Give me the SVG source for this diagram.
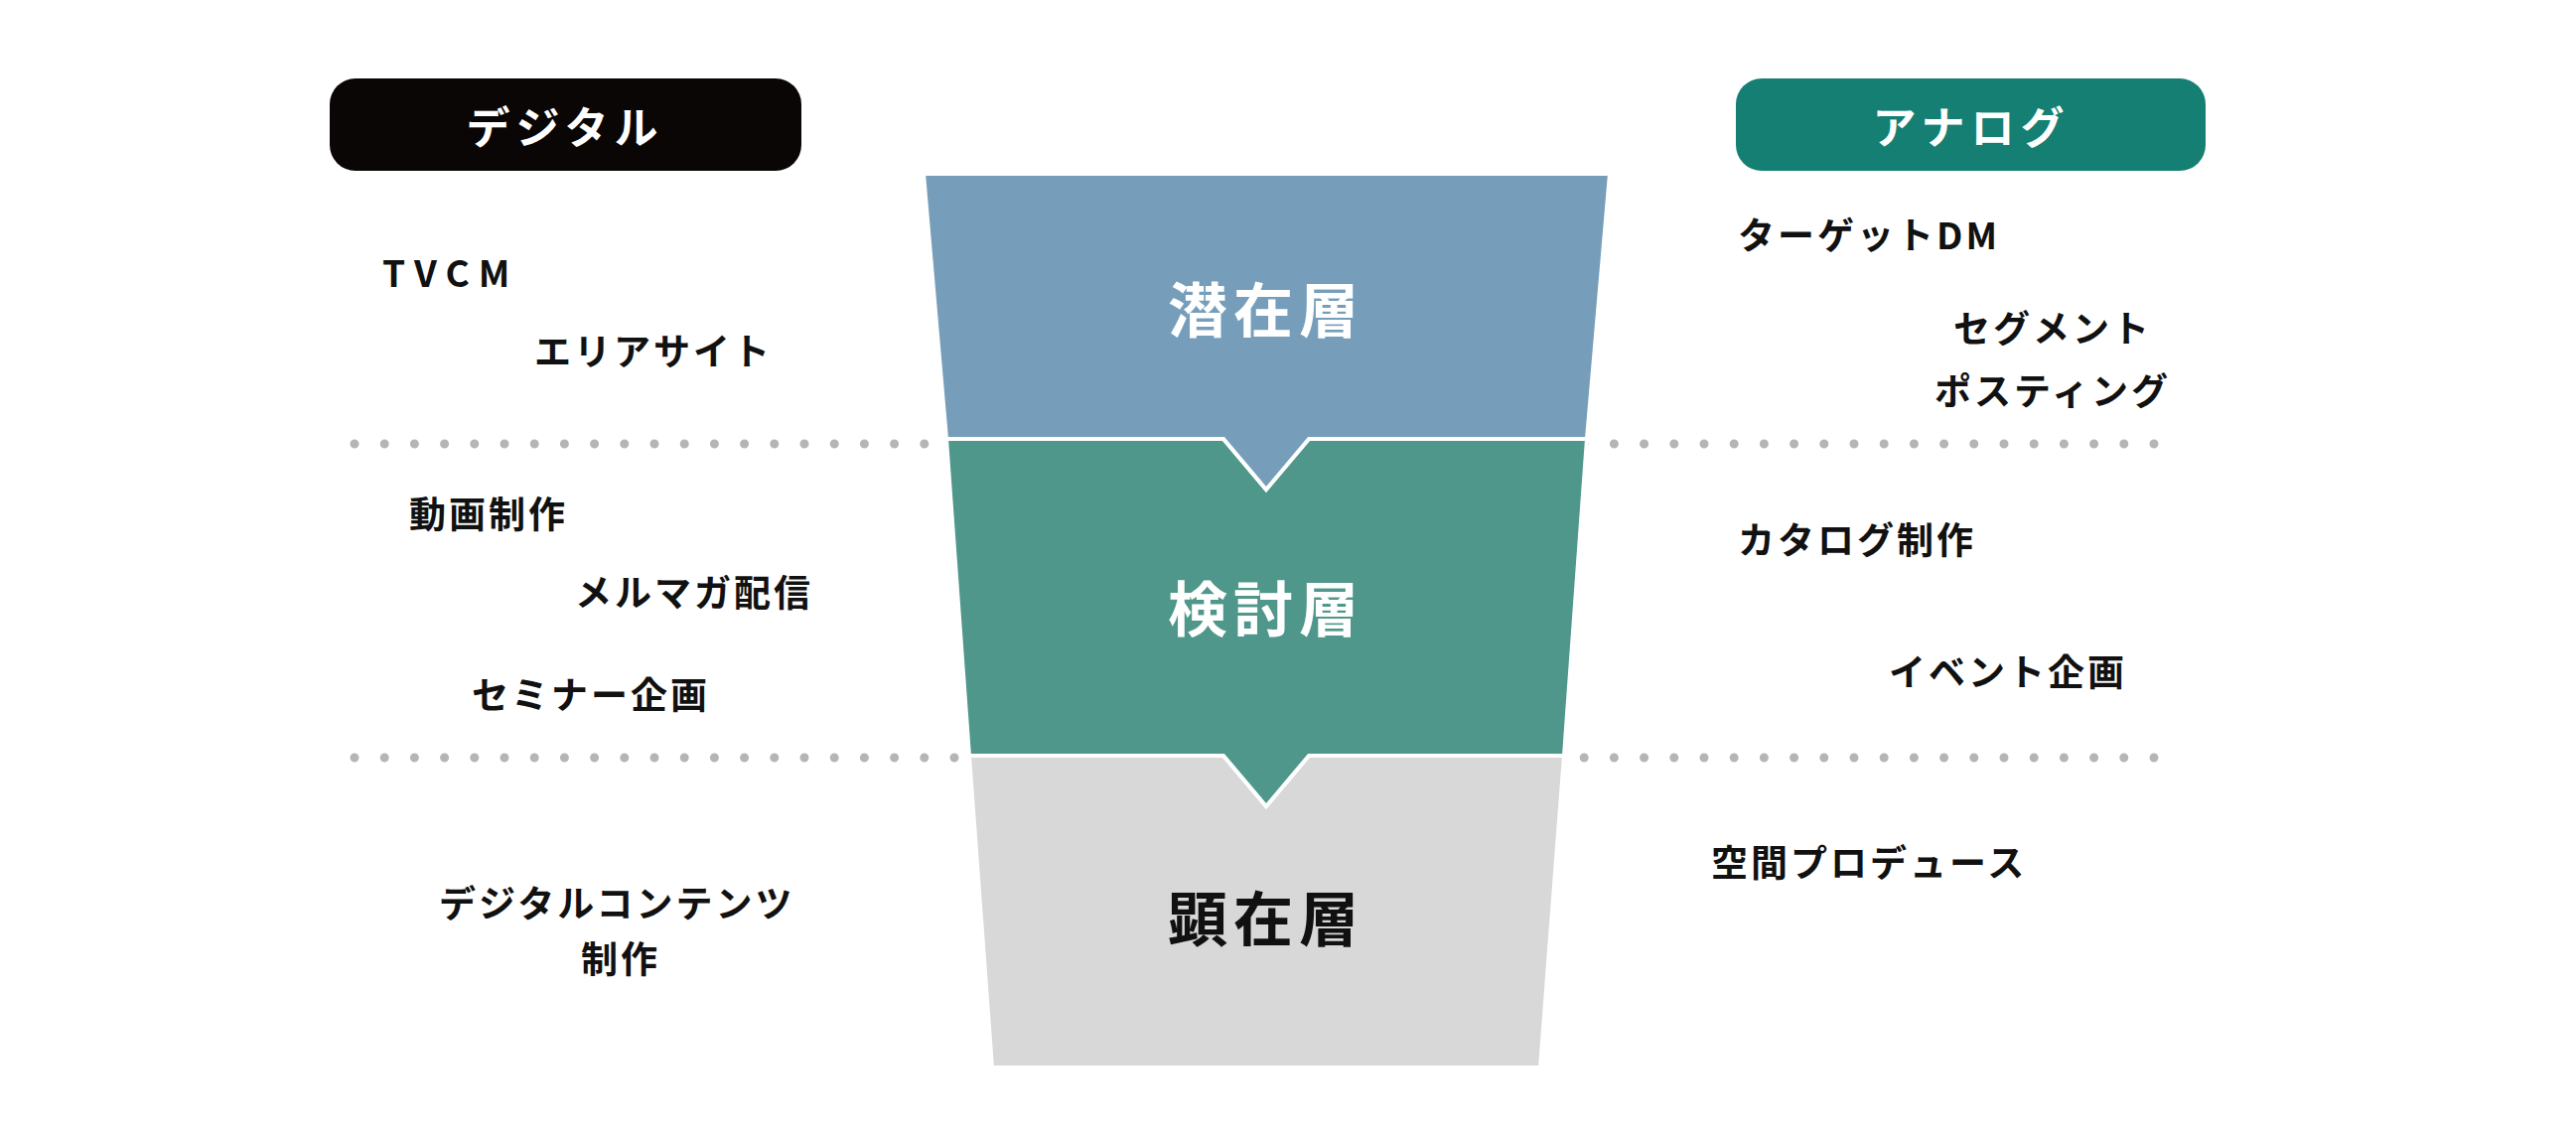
<svg xmlns="http://www.w3.org/2000/svg" width="2594" height="1141" viewBox="0 0 2594 1141">
<style>
text{font-family:"Noto Sans CJK JP","Noto Sans",sans-serif;font-weight:700;dominant-baseline:central}
.it{font-size:37px;fill:#111;letter-spacing:3px}
.ly{font-size:60px;text-anchor:middle;letter-spacing:6px}
.hd{font-size:44px;fill:#fff;text-anchor:middle;letter-spacing:6px}
.dot{stroke:#b5b5b5;stroke-width:9;stroke-linecap:round;stroke-dasharray:0 30.2;fill:none}
</style>
<rect width="2594" height="1141" fill="#fff"/>
<g id="connectors">
<line class="dot" x1="357" y1="447" x2="2170" y2="447"/>
<line class="dot" x1="357" y1="763" x2="2170" y2="763"/>
</g>
<g id="layer3"><polygon points="976,761 1232,761 1275,812 1318,761 1575,761 1551,1075 999,1075" fill="#d8d8d8" stroke="#fff" stroke-width="4"/><text class="ly" x="1275" y="921" fill="#111">顕在層</text></g>
<g id="layer2"><polygon points="953,442 1232,442 1275,493 1318,442 1598,442 1575,761 1318,761 1275,812 1232,761 976,761" fill="#4f978a" stroke="#fff" stroke-width="4"/><text class="ly" x="1275" y="609" fill="#fff">検討層</text></g>
<g id="layer1"><polygon points="930,175 1621,175 1598,442 1318,442 1275,493 1232,442 953,442" fill="#769eba" stroke="#fff" stroke-width="4"/><text class="ly" x="1275" y="308" fill="#fff">潜在層</text></g>
<g id="digital"><rect x="332" y="79" width="475" height="93" rx="26" fill="#0a0606"/><text class="hd" x="569" y="126">デジタル</text></g>
<g id="analog"><rect x="1748" y="79" width="473" height="93" rx="26" fill="#147f72"/><text class="hd" x="1985" y="126">アナログ</text></g>
<g id="items">
<text class="it" x="385" y="273" style="letter-spacing:9px">TVCM</text>
<text class="it" x="538" y="352">エリアサイト</text>
<text class="it" x="412" y="516">動画制作</text>
<text class="it" x="579" y="595">メルマガ配信</text>
<text class="it" x="475" y="698">セミナー企画</text>
<text class="it" x="442" y="908">デジタルコンテンツ</text>
<text class="it" x="625" y="964" text-anchor="middle">制作</text>
<text class="it" x="1750" y="235">ターゲットDM</text>
<text class="it" x="2067" y="329" text-anchor="middle">セグメント</text>
<text class="it" x="2067" y="392" text-anchor="middle">ポスティング</text>
<text class="it" x="1750" y="542">カタログ制作</text>
<text class="it" x="1902" y="675">イベント企画</text>
<text class="it" x="1723" y="867">空間プロデュース</text>
</g>
</svg>
